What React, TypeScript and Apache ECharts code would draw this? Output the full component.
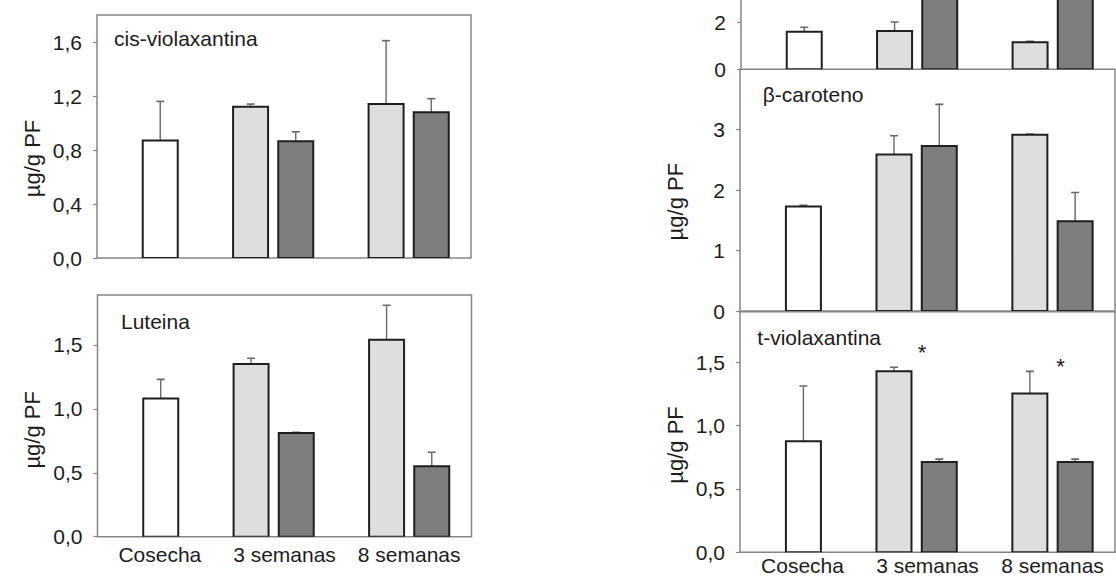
import React, { useEffect, useRef } from 'react';
import * as echarts from 'echarts';

const categories = ['Cosecha', '3 semanas', '8 semanas'];

// cis-violaxantina (µg/g PF)
const cisWhite = [0.87];
const cisWhiteErr = [0.29];
const cisLight = [1.12, 1.14];
const cisLightErr = [0.02, 0.47];
const cisDark = [0.865, 1.08];
const cisDarkErr = [0.07, 0.1];

// Luteina
const lutWhite = [1.08];
const lutWhiteErr = [0.15];
const lutLight = [1.35, 1.54];
const lutLightErr = [0.045, 0.27];
const lutDark = [0.81, 0.55];
const lutDarkErr = [0.006, 0.11];

// upper right panel (cropped at the top of the figure)
const topWhite = [1.61];
const topWhiteErr = [0.19];
const topLight = [1.64, 1.16];
const topLightErr = [0.39, 0.04];
const topDark = [4.6, 4.4];
const topDarkErr = [0.3, 0.3];

// β-caroteno
const betWhite = [1.73];
const betWhiteErr = [0.02];
const betLight = [2.59, 2.915];
const betLightErr = [0.31, 0.012];
const betDark = [2.73, 1.485];
const betDarkErr = [0.69, 0.475];

// t-violaxantina
const tviWhite = [0.876];
const tviWhiteErr = [0.437];
const tviLight = [1.43, 1.255];
const tviLightErr = [0.031, 0.174];
const tviDark = [0.713, 0.713];
const tviDarkErr = [0.023, 0.023];

// significance marks (t-violaxantina)
const sigX = [2.62, 5.68];
const sigY = [1.58, 1.465];

const FONT = '"Liberation Sans", Arial, Helvetica, sans-serif';
const TEXT = '#1c1c1c';
const FRAME = '#858585';
const OUTLINE = '#1f1f1f';
const ERR = '#686868';
const FILL_WHITE = '#ffffff';
const FILL_LIGHT = '#dedede';
const FILL_DARK = '#7e7e7e';

type Panel = {
  title: string;
  titleX: number;
  titleY: number;
  grid: { left: number; top: number; width: number; height: number };
  frame: boolean;
  max: number;
  interval: number;
  decimals: number;
  xLabels: boolean;
  xLabelMargin: number;
  showName: boolean;
  nameShift: number;
  white: number[];
  whiteErr: number[];
  light: number[];
  lightErr: number[];
  dark: number[];
  darkErr: number[];
};

const panels: Panel[] = [
  {
    title: 'cis-violaxantina', titleX: 114, titleY: 38,
    grid: { left: 97, top: 15, width: 374, height: 243 }, frame: true,
    max: 1.8, interval: 0.4, decimals: 1, xLabels: false, xLabelMargin: 0, showName: true, nameShift: 22,
    white: cisWhite, whiteErr: cisWhiteErr, light: cisLight, lightErr: cisLightErr, dark: cisDark, darkErr: cisDarkErr,
  },
  {
    title: 'Luteina', titleX: 121, titleY: 321,
    grid: { left: 97.5, top: 295, width: 374, height: 241.7 }, frame: true,
    max: 1.89, interval: 0.5, decimals: 1, xLabels: true, xLabelMargin: 8, showName: true, nameShift: 14,
    white: lutWhite, whiteErr: lutWhiteErr, light: lutLight, lightErr: lutLightErr, dark: lutDark, darkErr: lutDarkErr,
  },
  {
    title: '', titleX: 0, titleY: 0,
    grid: { left: 741, top: 0, width: 374, height: 69.3 }, frame: false,
    max: 2.97, interval: 2, decimals: 0, xLabels: false, xLabelMargin: 0, showName: false, nameShift: 0,
    white: topWhite, whiteErr: topWhiteErr, light: topLight, lightErr: topLightErr, dark: topDark, darkErr: topDarkErr,
  },
  {
    title: 'β-caroteno', titleX: 762.7, titleY: 94.4,
    grid: { left: 740, top: 69.3, width: 375, height: 241.7 }, frame: true,
    max: 4, interval: 1, decimals: 0, xLabels: false, xLabelMargin: 0, showName: true, nameShift: 11.5,
    white: betWhite, whiteErr: betWhiteErr, light: betLight, lightErr: betLightErr, dark: betDark, darkErr: betDarkErr,
  },
  {
    title: 't-violaxantina', titleX: 757.3, titleY: 337.7,
    grid: { left: 740, top: 311.7, width: 375, height: 240.6 }, frame: true,
    max: 1.9, interval: 0.5, decimals: 1, xLabels: true, xLabelMargin: 3.5, showName: true, nameShift: 13,
    white: tviWhite, whiteErr: tviWhiteErr, light: tviLight, lightErr: tviLightErr, dark: tviDark, darkErr: tviDarkErr,
  },
];

// slot position of a bar on the hidden numeric x axis: 3 slots per category
const slot = (cat: number, offset: number) => cat * 3 + offset;

function barData(values: number[], errs: number[], cats: number[], offset: number) {
  return values.map((v, i) => [slot(cats[i], offset), v, errs[i]]);
}

const makeRender = (fill: string) => (_params: any, api: any) => {
  const x = api.value(0);
  const v = api.value(1);
  const e = api.value(2);
  const base = api.coord([x, 0]);
  const top = api.coord([x, v]);
  const errTop = api.coord([x, v + e]);
  const hw = 17.5;
  return {
    type: 'group',
    children: [
      {
        type: 'line',
        shape: { x1: top[0], y1: top[1], x2: top[0], y2: errTop[1] },
        style: { stroke: ERR, lineWidth: 1.4 },
      },
      {
        type: 'line',
        shape: { x1: top[0] - 4, y1: errTop[1], x2: top[0] + 4, y2: errTop[1] },
        style: { stroke: ERR, lineWidth: 1.6 },
      },
      {
        type: 'rect',
        shape: { x: base[0] - hw, y: top[1], width: hw * 2, height: base[1] - top[1] },
        style: { fill, stroke: OUTLINE, lineWidth: 2 },
      },
    ],
  };
};

const fmt = (p: Panel) => (v: number) => {
  if (v > p.max - 1e-9) return '';
  const k = v / p.interval;
  if (Math.abs(k - Math.round(k)) > 1e-6) return '';
  return v.toFixed(p.decimals).replace('.', ',');
};

function buildOption() {
  const grid: any[] = [];
  const xAxis: any[] = [];
  const yAxis: any[] = [];
  const series: any[] = [];
  const graphic: any[] = [];

  panels.forEach((p, i) => {
    grid.push({
      ...p.grid,
      show: p.frame,
      borderColor: FRAME,
      borderWidth: 1.5,
      backgroundColor: 'transparent',
      containLabel: false,
      outerBoundsMode: 'none',
    });
    const valueXIndex = xAxis.length;
    xAxis.push({
      type: 'value',
      gridIndex: i,
      min: -1.4,
      max: 6.88,
      position: 'top',
      show: false,
      axisLine: { onZero: false },
    });
    if (p.xLabels) {
      xAxis.push({
        type: 'category',
        gridIndex: i,
        data: categories,
        position: 'bottom',
        axisLine: { show: false, onZero: false },
        axisTick: { show: false },
        splitLine: { show: false },
        axisLabel: {
          margin: p.xLabelMargin,
          fontSize: 21,
          lineHeight: 19,
          fontFamily: FONT,
          color: TEXT,
          interval: 0,
        },
      });
    }
    yAxis.push({
      type: 'value',
      gridIndex: i,
      min: 0,
      max: p.max,
      interval: p.interval,
      position: 'left',
      axisLine: { show: !p.frame, onZero: false, lineStyle: { color: FRAME, width: 1.5 } },
      axisTick: { show: true, length: 4, lineStyle: { color: FRAME, width: 1.2 } },
      splitLine: { show: false },
      axisLabel: {
        margin: 15,
        fontSize: 21,
        fontFamily: FONT,
        color: TEXT,
        formatter: fmt(p),
        showMaxLabel: false,
      },
      name: p.showName ? 'µg/g PF' : '',
      nameLocation: 'middle',
      nameGap: 54,
      nameMoveOverlap: false,
      nameTextStyle: {
        fontSize: 22,
        fontFamily: FONT,
        color: TEXT,
        padding: [0, p.nameShift * 2, 0, 0],
      },
    });
    const common = {
      type: 'custom',
      coordinateSystem: 'cartesian2d',
      xAxisIndex: valueXIndex,
      yAxisIndex: i,
      clip: true,
      silent: true,
    };
    series.push({ ...common, name: 'Cosecha', renderItem: makeRender(FILL_WHITE), data: barData(p.white, p.whiteErr, [0], 0) });
    series.push({ ...common, name: 'Serie clara', renderItem: makeRender(FILL_LIGHT), data: barData(p.light, p.lightErr, [1, 2], -1) });
    series.push({ ...common, name: 'Serie oscura', renderItem: makeRender(FILL_DARK), data: barData(p.dark, p.darkErr, [1, 2], 0) });

    if (p.title) {
      graphic.push({
        type: 'text',
        x: p.titleX,
        y: p.titleY,
        style: { text: p.title, fontSize: 21, fontFamily: FONT, fill: TEXT, verticalAlign: 'middle', align: 'left' },
      });
    }

    if (p.title === 't-violaxantina') {
      series.push({
        ...common,
        name: 'significancia',
        data: sigX.map((x, k) => [x, sigY[k]]),
        renderItem: (_params: any, api: any) => {
          const pt = api.coord([api.value(0), api.value(1)]);
          return {
            type: 'text',
            x: pt[0],
            y: pt[1],
            style: { text: '*', fontSize: 22, fontFamily: FONT, fill: TEXT, align: 'center', verticalAlign: 'middle' },
          };
        },
      });
    }
  });

  return {
    animation: false,
    backgroundColor: '#ffffff',
    grid,
    xAxis,
    yAxis,
    series,
    graphic,
  };
}

export default function App() {
  const ref = useRef<HTMLDivElement>(null);
  useEffect(() => {
    document.body.style.margin = '0';
    const chart = echarts.init(ref.current as HTMLDivElement, null, { renderer: 'svg' });
    chart.setOption(buildOption() as any);
    return () => chart.dispose();
  }, []);
  return (
    <div
      ref={ref}
      style={{ position: 'absolute', left: 0, top: 0, width: 1116, height: 576, background: '#fff' }}
    />
  );
}
